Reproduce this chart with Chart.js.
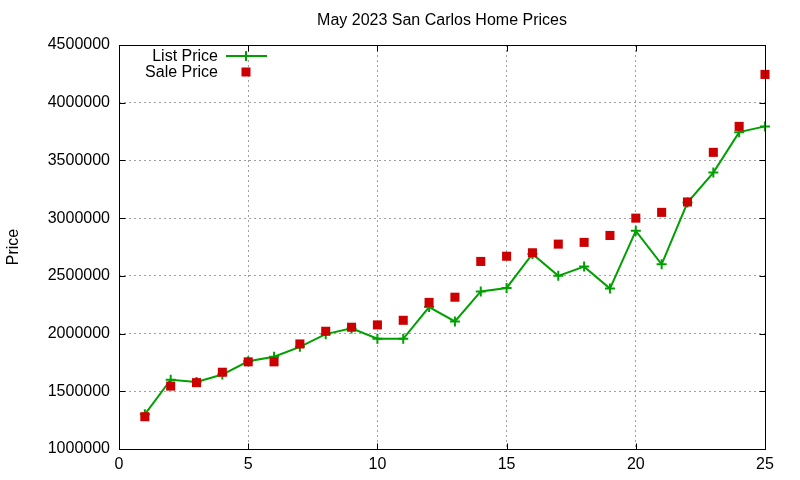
<!DOCTYPE html>
<html>
<head>
<meta charset="utf-8">
<script src="https://cdn.jsdelivr.net/npm/chart.js@4.4.0/dist/chart.umd.min.js"></script>
<style>
html,body{margin:0;padding:0;background:#fff;}
#wrap{width:800px;height:480px;position:relative;}
</style>
</head>
<body>
<div id="wrap"><canvas id="c" width="800" height="480"></canvas></div>
<script>
const titleText = 'May 2023 San Carlos Home Prices';
const yAxisLabel = 'Price';
const homes = [1,2,3,4,5,6,7,8,9,10,11,12,13,14,15,16,17,18,19,20,21,22,23,24,25];
const listPrice = [1300000,1600000,1580000,1645000,1760000,1800000,1885000,1995000,2045000,1955000,1955000,2230000,2105000,2365000,2395000,2690000,2500000,2580000,2390000,2890000,2600000,3135000,3395000,3745000,3795000];
const salePrice = [1280000,1545000,1575000,1665000,1755000,1755000,1910000,2020000,2055000,2075000,2115000,2270000,2315000,2625000,2670000,2700000,2775000,2790000,2850000,3000000,3050000,3140000,3570000,3795000,4245000];
const seriesNames = ['List Price','Sale Price'];
const xTicks = [0,5,10,15,20,25];
const yTicks = [1000000,1500000,2000000,2500000,3000000,3500000,4000000,4500000];

const FONT = "'Liberation Sans', Arial, Helvetica, sans-serif";
const GREEN = '#00a000';
const RED = '#cc0000';

const frame = {
  id: 'frame',
  afterDraw(chart) {
    const {ctx, chartArea: a, scales: {x, y}} = chart;
    ctx.save();
    // title centred over plot area
    ctx.font = '16px ' + FONT;
    ctx.fillStyle = '#000';
    ctx.textAlign = 'center';
    ctx.textBaseline = 'middle';
    ctx.fillText(titleText, (a.left + a.right) / 2, 21);

    ctx.strokeStyle = '#000';
    ctx.lineWidth = 1;
    const L = Math.round(a.left) + 0.5, R = Math.round(a.right) + 0.5;
    const T = Math.round(a.top) + 0.5, B = Math.round(a.bottom) + 0.5;
    ctx.beginPath();
    const tl = 6;
    x.ticks.forEach(t => {
      const px = Math.round(x.getPixelForValue(t.value)) + 0.5;
      ctx.moveTo(px, B); ctx.lineTo(px, B - tl);
      ctx.moveTo(px, T); ctx.lineTo(px, T + tl);
    });
    y.ticks.forEach(t => {
      const py = Math.round(y.getPixelForValue(t.value)) + 0.5;
      ctx.moveTo(L, py); ctx.lineTo(L + tl, py);
      ctx.moveTo(R, py); ctx.lineTo(R - tl, py);
    });
    ctx.stroke();
    ctx.strokeRect(L, T, R - L, B - T);

    // legend (gnuplot style)
    ctx.font = '16px ' + FONT;
    ctx.fillStyle = '#000';
    ctx.textAlign = 'right';
    ctx.textBaseline = 'middle';
    const tx = 218, sx1 = 226, sx2 = 267, sc = 246;
    const y1 = 56, y2 = 72;
    ctx.fillText(chart.data.datasets[0].label, tx, y1 + 1);
    ctx.fillText(chart.data.datasets[1].label, tx, y2 + 1);
    ctx.strokeStyle = GREEN;
    ctx.lineWidth = 2;
    ctx.beginPath();
    ctx.moveTo(sx1, y1); ctx.lineTo(sx2, y1);
    ctx.moveTo(sc, y1 - 5); ctx.lineTo(sc, y1 + 5);
    ctx.stroke();
    ctx.fillStyle = RED;
    ctx.fillRect(sc - 4.5, y2 - 4.5, 9, 9);
    ctx.restore();
  }
};

new Chart(document.getElementById('c'), {
  type: 'line',
  data: {
    datasets: [
      {
        label: seriesNames[0],
        data: homes.map((h, i) => ({x: h, y: listPrice[i]})),
        borderColor: GREEN,
        backgroundColor: GREEN,
        borderWidth: 2,
        pointStyle: 'cross',
        pointRadius: 5,
        pointBorderWidth: 2,
        pointBorderColor: GREEN,
        tension: 0,
        fill: false,
        clip: false,
        order: 2
      },
      {
        label: seriesNames[1],
        data: homes.map((h, i) => ({x: h, y: salePrice[i]})),
        showLine: false,
        borderColor: RED,
        backgroundColor: RED,
        pointStyle: 'rect',
        pointRadius: 6.4,
        pointBorderWidth: 0,
        clip: false,
        order: 1
      }
    ]
  },
  plugins: [frame],
  options: {
    responsive: false,
    animation: false,
    events: [],
    layout: {padding: {left: 0, right: 35, top: 45, bottom: 0}},
    plugins: {
      legend: {display: false},
      tooltip: {enabled: false},
      title: {display: false}
    },
    scales: {
      x: {
        type: 'linear',
        min: xTicks[0],
        max: xTicks[xTicks.length - 1],
        afterBuildTicks(s) { s.ticks = xTicks.map(v => ({value: v})); },
        afterFit(s) { s.height = 31; },
        border: {display: false, dash: [2, 3]},
        grid: {
          drawTicks: false,
          color: '#a0a0a0',
          lineWidth: 1
        },
        ticks: {
          color: '#000',
          padding: 6,
          font: {family: FONT, size: 16},
          callback: v => String(v)
        }
      },
      y: {
        type: 'linear',
        min: yTicks[0],
        max: yTicks[yTicks.length - 1],
        afterBuildTicks(s) { s.ticks = yTicks.map(v => ({value: v})); },
        afterFit(s) { s.width = 119; },
        border: {display: false, dash: [2, 3]},
        grid: {
          drawTicks: false,
          color: '#a0a0a0',
          lineWidth: 1
        },
        title: {
          display: true,
          text: yAxisLabel,
          color: '#000',
          font: {family: FONT, size: 16, weight: 'normal'},
          padding: {top: 4, bottom: 0}
        },
        ticks: {
          color: '#000',
          padding: 9,
          font: {family: FONT, size: 16},
          callback: v => String(v)
        }
      }
    }
  }
});
</script>
</body>
</html>
